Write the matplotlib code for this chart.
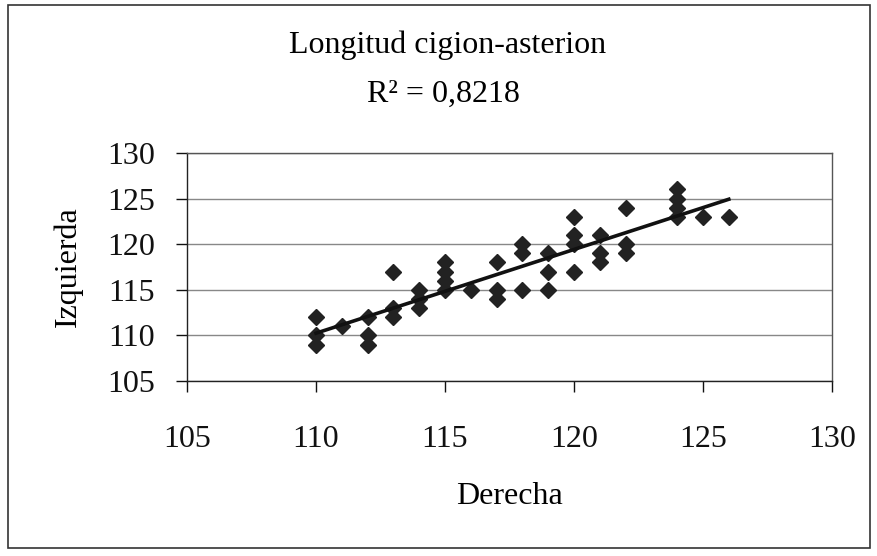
import numpy as np
import matplotlib
matplotlib.use("Agg")
import matplotlib.pyplot as plt
from matplotlib.patches import Rectangle

# Derecha (x) and Izquierda (y)
derecha = [110, 110, 110, 111, 112, 112, 112, 113, 113, 113, 114, 114, 114,
           115, 115, 115, 115, 116, 117, 117, 117, 118, 118, 118, 119, 119, 119,
           120, 120, 120, 120, 121, 121, 121, 122, 122, 122,
           124, 124, 124, 124, 125, 126]
izquierda = [112, 110, 109, 111, 112, 110, 109, 117, 113, 112, 115, 114, 113,
             118, 117, 116, 115, 115, 118, 115, 114, 120, 119, 115, 119, 117, 115,
             123, 121, 120, 117, 121, 119, 118, 124, 120, 119,
             126, 125, 124, 123, 123, 123]
ticks = [105, 110, 115, 120, 125, 130]
r2_text = "0,8218"

plt.rcParams['font.family'] = ['Liberation Serif', 'DejaVu Serif']
FS = 23

W, H = 878, 556
fig = plt.figure(figsize=(W / 100, H / 100), dpi=100)
fig.patch.set_facecolor('white')

# outer chart frame
fig.patches.append(Rectangle((8 / W, 1 - 548 / H), 862 / W, 543 / H,
                             transform=fig.transFigure, fill=False,
                             edgecolor='#333333', linewidth=1.2))

ax = fig.add_axes([187 / W, 1 - 381 / H, 645 / W, 228 / H])

x = np.array(derecha, dtype=float)
y = np.array(izquierda, dtype=float)
ax.plot(x, y, linestyle='none', marker='D', markersize=8.5,
        color='#222222', zorder=3)

# linear trend line
m, b = np.polyfit(x, y, 1)
xl = np.array([x.min(), x.max()])
ax.plot(xl, m * xl + b, color='#111111', linewidth=2.6, zorder=4)

ax.set_xlim(105, 130)
ax.set_ylim(105, 130)
ax.set_xticks(ticks)
ax.set_yticks(ticks)
ax.tick_params(labelsize=FS, length=8, width=1, direction='out',
               colors='#111111')
ax.tick_params(axis='x', pad=24)
ax.tick_params(axis='y', pad=15)
ax.grid(axis='y', color='#888888', linewidth=1)
ax.set_axisbelow(True)
for s in ax.spines.values():
    s.set_color('#555555')
    s.set_linewidth(1)
ax.spines['left'].set_color('#222222')
ax.spines['bottom'].set_color('#222222')

ax.set_xlabel('Derecha', fontsize=FS, va='center')
ax.xaxis.set_label_coords(0.5, (381 - 497) / 228)
ax.set_ylabel('Izquierda', fontsize=FS, va='center')
ax.yaxis.set_label_coords((68 - 187) / 645, 0.5)

fig.text(448 / W, 1 - 45 / H, 'Longitud cigion-asterion', fontsize=FS,
         ha='center', va='center')
fig.text(443 / W, 1 - 94 / H, 'R² = ' + r2_text, fontsize=FS,
         ha='center', va='center')

fig.savefig('out.png', dpi=100)
